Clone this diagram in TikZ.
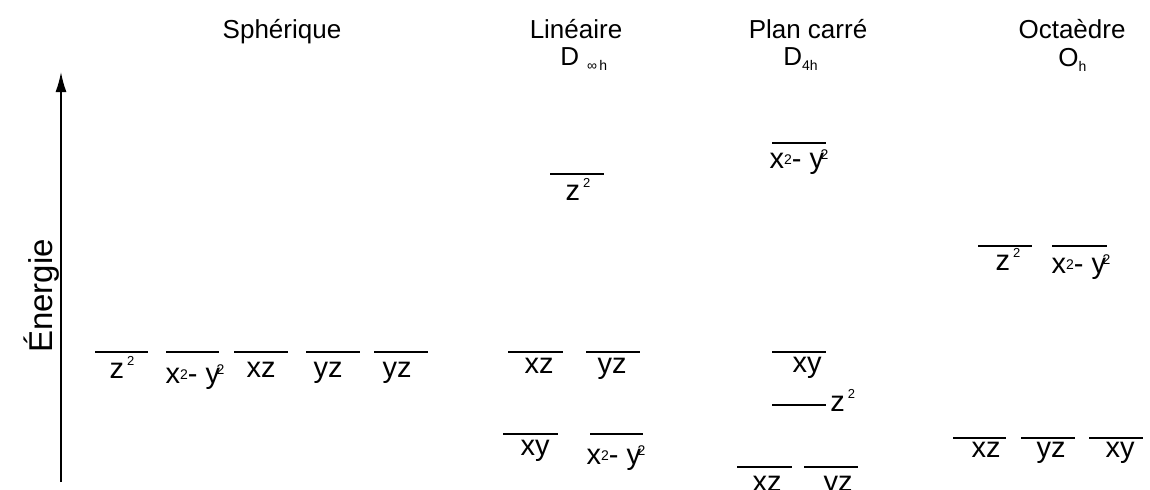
\documentclass[tikz,border=0pt]{standalone}
\usepackage{fontspec}
\setmainfont{Liberation Sans}
\usetikzlibrary{arrows.meta}

% petits chiffres et indices
\newcommand{\haut}[1]{\raisebox{0.8ex}{\fontsize{6.5}{6.5}\selectfont #1}}
\newcommand{\milieu}[1]{\raisebox{0.25ex}{\fontsize{7}{7}\selectfont #1}}
\newcommand{\bas}[1]{\raisebox{-0.4ex}{\fontsize{7}{7}\selectfont #1}}
\newcommand{\zdeux}{z\kern1.5pt\haut{2}}
\newcommand{\xmoinsy}{x\milieu{2}- y\kern-1.8pt\raisebox{0.55ex}{\fontsize{7}{7}\selectfont 2}}

\begin{document}
\begin{tikzpicture}[x=0.5pt, y=-0.5pt,
    niveau/.style={line width=1pt},
    orb/.style={font=\fontsize{14.5}{17}\selectfont, inner sep=0pt, anchor=base},
    titre/.style={font=\fontsize{13}{15}\selectfont, inner sep=0pt, anchor=base}]
  \useasboundingbox (0,0) rectangle (1150,489);
  % ---- axe des energies ----
  \coordinate (axe-bas) at (61,482);
  \coordinate (axe-haut) at (61,72);
  \draw[line width=0.8pt, -{Latex[length=10pt,width=5.5pt]}] (axe-bas) -- (axe-haut);
  \node[titre, font=\fontsize{16.5}{19}\selectfont, rotate=90] (energie) at (52,296) {Énergie};
  % ---- titres ----
  \node[titre] (sph) at (282,38) {Sphérique};
  \node[titre] (lin) at (576,38) {Linéaire};
  \node[titre, anchor=base west] (lin-g) at (560,65) {D\hspace{4pt}\bas{∞\,h}};
  \node[titre] (car) at (808,38) {Plan carré};
  \node[titre, anchor=base west] (car-g) at (783,65) {D\bas{4h}};
  \node[titre] (oct) at (1072,38) {Octaèdre};
  \node[titre, anchor=base west] (oct-g) at (1058,66) {O\bas{h}};
  % ---- sphérique ----
  \draw[niveau] (95,352) -- (148,352);
  \draw[niveau] (166,352) -- (219,352);
  \draw[niveau] (234,352) -- (288,352);
  \draw[niveau] (306,352) -- (360,352);
  \draw[niveau] (374,352) -- (428,352);
  \node[orb] (sph-z2) at (122,378) {\zdeux};
  \node[orb] (sph-x2y2) at (195,383) {\xmoinsy};
  \node[orb] (sph-xz) at (261,377) {xz};
  \node[orb] (sph-yz) at (328,377) {yz};
  \node[orb] (sph-yz2) at (397,377) {yz};
  % ---- linéaire ----
  \draw[niveau] (550,174) -- (604,174);
  \draw[niveau] (508,352) -- (563,352);
  \draw[niveau] (586,352) -- (640,352);
  \draw[niveau] (503,434) -- (558,434);
  \draw[niveau] (590,434) -- (643,434);
  \node[orb] (lin-z2) at (578,200) {\zdeux};
  \node[orb] (lin-xz) at (539,373) {xz};
  \node[orb] (lin-yz) at (612,373) {yz};
  \node[orb] (lin-xy) at (535,455) {xy};
  \node[orb] (lin-x2y2) at (616,464) {\xmoinsy};
  % ---- plan carré ----
  \draw[niveau] (772,143) -- (826,143);
  \draw[niveau] (772,352) -- (826,352);
  \draw[niveau] (772,405) -- (826,405);
  \draw[niveau] (737,467) -- (792,467);
  \draw[niveau] (804,467) -- (858,467);
  \node[orb] (car-x2y2) at (799,168) {\xmoinsy};
  \node[orb] (car-xy) at (807,372) {xy};
  \node[orb, anchor=base west] (car-z2) at (830,411) {\zdeux};
  \node[orb] (car-xz) at (767,491) {xz};
  \node[orb] (car-yz) at (838,491) {yz};
  % ---- octaèdre ----
  \draw[niveau] (978,246) -- (1032,246);
  \draw[niveau] (1052,246) -- (1107,246);
  \draw[niveau] (953,438) -- (1006,438);
  \draw[niveau] (1021,438) -- (1075,438);
  \draw[niveau] (1089,438) -- (1143,438);
  \node[orb] (oct-z2) at (1008,270) {\zdeux};
  \node[orb] (oct-x2y2) at (1081,273) {\xmoinsy};
  \node[orb] (oct-xz) at (986,457) {xz};
  \node[orb] (oct-yz) at (1051,457) {yz};
  \node[orb] (oct-xy) at (1120,457) {xy};
\end{tikzpicture}
\end{document}
